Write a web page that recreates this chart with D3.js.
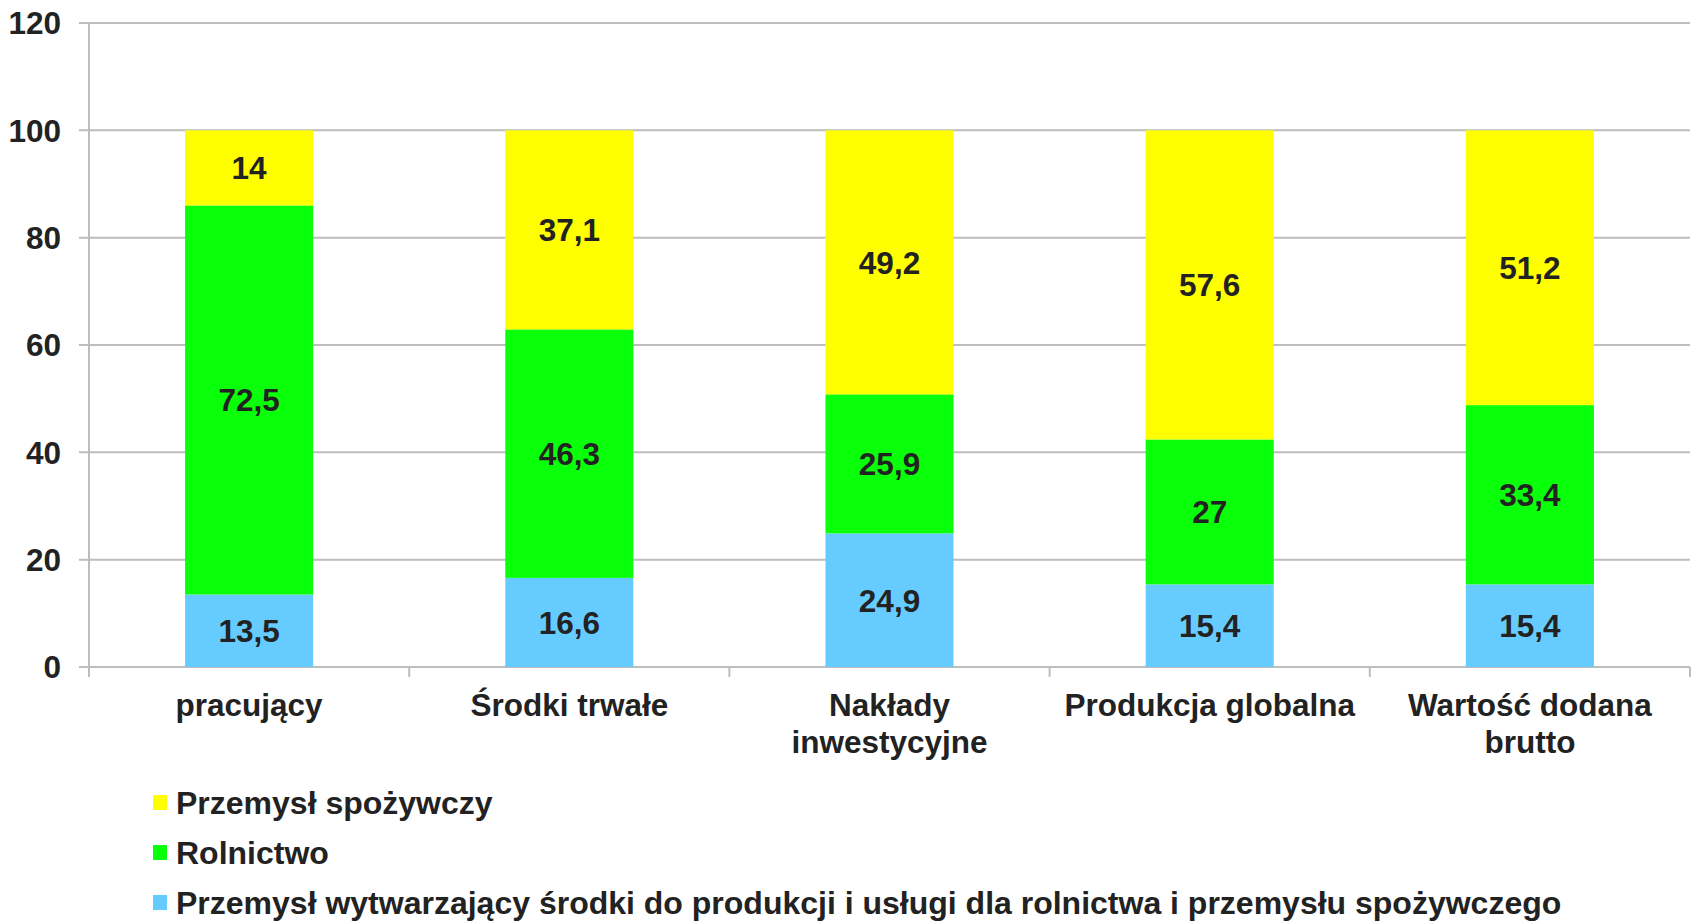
<!DOCTYPE html>
<html>
<head>
<meta charset="utf-8">
<script src="https://cdnjs.cloudflare.com/ajax/libs/d3/7.8.5/d3.min.js"></script>
<style>
  body { margin: 0; background: #fff; }
  text { font-family: "Liberation Sans", Arial, sans-serif; font-weight: bold; fill: #222; }
</style>
</head>
<body>
<svg id="chart" width="1692" height="922"></svg>
<script>
// categories and label lines
var categories = ["pracujący", "Środki trwałe", "Nakłady inwestycyjne", "Produkcja globalna", "Wartość dodana brutto"];
var categoryLines = [["pracujący"], ["Środki trwałe"], ["Nakłady", "inwestycyjne"], ["Produkcja globalna"], ["Wartość dodana", "brutto"]];

// series, bottom to top
var seriesNames = ["Przemysł wytwarzający środki do produkcji i usługi dla rolnictwa i przemysłu spożywczego", "Rolnictwo", "Przemysł spożywczy"];
var uslugi = [13.5, 16.6, 24.9, 15.4, 15.4];
var rolnictwo = [72.5, 46.3, 25.9, 27, 33.4];
var spozywczy = [14, 37.1, 49.2, 57.6, 51.2];
var yTicks = [0, 20, 40, 60, 80, 100, 120];

var colors = ["#66ccff", "#0aff0a", "#ffff00"];
var keys = ["s0", "s1", "s2"];

var rows = categories.map(function(c, i) {
    return {cat: c, s0: uslugi[i], s1: rolnictwo[i], s2: spozywczy[i]};
});

var svg = d3.select("#chart");
var plotLeft = 89, plotRight = 1690, plotTop = 23, plotBottom = 667;
var fs = "31.5px";

var x = d3.scaleBand().domain(categories).range([plotLeft, plotRight]).paddingInner(0.6).paddingOuter(0.3);
var xb = d3.scaleBand().domain(categories).range([plotLeft, plotRight]);
var y = d3.scaleLinear().domain([0, 120]).range([plotBottom, plotTop]);

// gridlines
svg.append("g").selectAll("line")
    .data(yTicks)
    .enter().append("line")
    .attr("x1", plotLeft - 10).attr("x2", plotRight)
    .attr("y1", function(d) { return y(d); })
    .attr("y2", function(d) { return y(d); })
    .attr("stroke", "#bdbdbd").attr("stroke-width", 2);

// y axis line
svg.append("line")
    .attr("x1", plotLeft).attr("x2", plotLeft)
    .attr("y1", y(120)).attr("y2", plotBottom + 10)
    .attr("stroke", "#bdbdbd").attr("stroke-width", 2);

// x tick marks at category borders
var borders = categories.map(function(c) { return xb(c); }).concat([plotRight]);
svg.append("g").selectAll("line")
    .data(borders)
    .enter().append("line")
    .attr("x1", function(d) { return d; }).attr("x2", function(d) { return d; })
    .attr("y1", plotBottom).attr("y2", plotBottom + 10)
    .attr("stroke", "#bdbdbd").attr("stroke-width", 2);

// y tick labels
svg.append("g").selectAll("text")
    .data(yTicks)
    .enter().append("text")
    .attr("x", 61)
    .attr("y", function(d) { return y(d); })
    .attr("dy", "0.36em")
    .attr("text-anchor", "end")
    .style("font-size", fs)
    .text(function(d) { return d; });

// stacked bars
var stack = d3.stack().keys(keys)(rows);
var layers = svg.append("g").selectAll("g")
    .data(stack)
    .enter().append("g")
    .attr("fill", function(d, i) { return colors[i]; });

layers.selectAll("rect")
    .data(function(d) { return d; })
    .enter().append("rect")
    .attr("x", function(d) { return x(d.data.cat); })
    .attr("width", x.bandwidth())
    .attr("y", function(d) { return y(d[1]); })
    .attr("height", function(d) { return y(d[0]) - y(d[1]); });

// value labels
var fmt = function(v) { return String(v).replace(".", ","); };
layers.selectAll("text")
    .data(function(d) { return d.map(function(p) { return {p: p, key: d.key}; }); })
    .enter().append("text")
    .attr("x", function(d) { return x(d.p.data.cat) + x.bandwidth() / 2; })
    .attr("y", function(d) { return (y(d.p[0]) + y(d.p[1])) / 2; })
    .attr("dy", "0.36em")
    .attr("text-anchor", "middle")
    .style("font-size", fs)
    .text(function(d) { return fmt(d.p.data[d.key]); });

// x labels
var xl = svg.append("g").selectAll("text")
    .data(categories)
    .enter().append("text")
    .attr("text-anchor", "middle")
    .attr("transform", function(d) { return "translate(" + (xb(d) + xb.bandwidth() / 2) + "," + 716 + ")"; })
    .style("font-size", fs);
xl.selectAll("tspan")
    .data(function(d, i) { return categoryLines[i]; })
    .enter().append("tspan")
    .attr("x", 0)
    .attr("y", function(d, i) { return i * 37; })
    .text(function(d) { return d; });

// legend, top to bottom
var legendOrder = [2, 1, 0];
var lg = svg.append("g").selectAll("g")
    .data(legendOrder)
    .enter().append("g")
    .attr("transform", function(d, i) { return "translate(153," + (795 + i * 50) + ")"; });
lg.append("rect")
    .attr("width", 14).attr("height", 15)
    .attr("fill", function(d) { return colors[d]; });
lg.append("text")
    .attr("x", 23).attr("y", 19)
    .style("font-size", "32px")
    .text(function(d) { return seriesNames[d]; });
</script>
</body>
</html>
